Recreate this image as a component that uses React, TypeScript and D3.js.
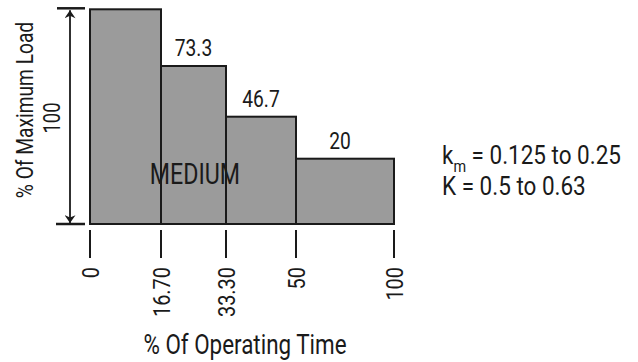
import React from "react";
import * as d3 from "d3";

const timeBreaks = [0, 16.7, 33.3, 50, 100];
const tickLabels = ["0", "16.70", "33.30", "50", "100"];
const loads = [100, 73.3, 46.7, 20];
const loadLabels = ["", "73.3", "46.7", "20"];
const loadLevels = [0, 20, 46.7, 73.3, 100];

const FONT = "Roboto, 'Liberation Sans', sans-serif";
const INK = "#1a1a1a";

function CText({ x, y, size, anchor = "middle", rotate = 0, sx = 0.8, children }: any) {
  return (
    <text
      transform={`translate(${x},${y}) rotate(${rotate}) scale(${sx},1)`}
      fontFamily={FONT}
      fontSize={size}
      textAnchor={anchor}
      fill={INK}
    >
      {children}
    </text>
  );
}

export default function App() {
  const W = 638, H = 362;
  const x = d3.scaleLinear().domain(timeBreaks).range([90, 161, 226, 296, 394]);
  const y = d3.scaleLinear().domain(loadLevels).range([224, 158.7, 116.7, 66, 9.3]);

  const bars = loads.map((v, i) => ({
    x0: x(timeBreaks[i]),
    x1: x(timeBreaks[i + 1]),
    y0: y(v),
    label: loadLabels[i],
  }));

  return (
    <svg width={W} height={H} style={{ position: "absolute", left: 0, top: 0, background: "#fff" }}>
      <defs>
        <marker id="ah" viewBox="0 0 10 14" refX="10" refY="7" markerWidth="14" markerHeight="11" orient="auto-start-reverse" markerUnits="userSpaceOnUse">
          <path d="M0,0 L10,7 L0,14 L3,7 Z" fill={INK} />
        </marker>
      </defs>
      {bars.map((b, i) => (
        <rect key={i} x={b.x0} y={b.y0} width={b.x1 - b.x0} height={y(0) - b.y0} fill="#9b9b9b" stroke={INK} strokeWidth={2} />
      ))}
      {bars.map((b, i) =>
        b.label ? (
          <CText key={"l" + i} x={(b.x0 + b.x1) / 2 - (i === 3 ? 5 : 0)} y={b.y0 - 10} size={24}>
            {b.label}
          </CText>
        ) : null
      )}
      <CText x={195} y={184} size={29}>MEDIUM</CText>

      {/* y dimension arrow */}
      <line x1={57} x2={85} y1={y(100) - 1} y2={y(100) - 1} stroke={INK} strokeWidth={2.5} />
      <line x1={56} x2={85} y1={y(0)} y2={y(0)} stroke={INK} strokeWidth={2.5} />
      <line x1={70} x2={70} y1={y(100) + 1} y2={y(0) - 1} stroke={INK} strokeWidth={1.8} markerStart="url(#ah)" markerEnd="url(#ah)" />

      <CText x={33} y={110} size={24} rotate={-90}>% Of Maximum Load</CText>
      <CText x={60} y={118} size={23} rotate={-90}>100</CText>

      {/* x ticks */}
      {timeBreaks.map((t, i) => (
        <g key={"t" + i}>
          <line x1={x(t)} x2={x(t)} y1={230} y2={258} stroke={INK} strokeWidth={2} />
          <CText x={x(t) + 9} y={267} size={24} sx={0.83} rotate={-90} anchor="end">
            {tickLabels[i]}
          </CText>
        </g>
      ))}
      <CText x={245} y={354} size={27} sx={0.83}>% Of Operating Time</CText>

      <text transform="translate(442,164) scale(0.9,1)" fontFamily={FONT} fontSize={25} fill={INK}>
        k<tspan fontSize={16} dy={8}>m</tspan>
        <tspan dy={-8}> = 0.125 to 0.25</tspan>
      </text>
      <CText x={442} y={195} size={25} sx={0.9} anchor="start">K = 0.5 to 0.63</CText>
    </svg>
  );
}
